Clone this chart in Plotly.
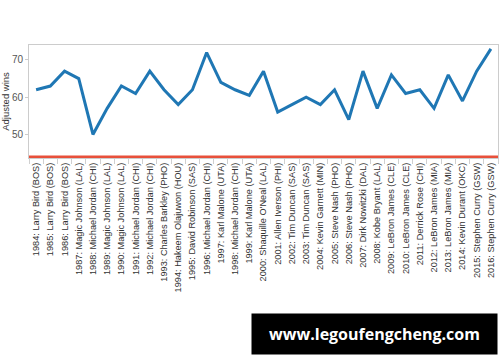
import plotly.graph_objects as go

years = list(range(1984, 2017))
players = [
    "Larry Bird (BOS)", "Larry Bird (BOS)", "Larry Bird (BOS)",
    "Magic Johnson (LAL)", "Michael Jordan (CHI)", "Magic Johnson (LAL)",
    "Magic Johnson (LAL)", "Michael Jordan (CHI)", "Michael Jordan (CHI)",
    "Charles Barkley (PHO)", "Hakeem Olajuwon (HOU)", "David Robinson (SAS)",
    "Michael Jordan (CHI)", "Karl Malone (UTA)", "Michael Jordan (CHI)",
    "Karl Malone (UTA)", "Shaquille O'Neal (LAL)", "Allen Iverson (PHI)",
    "Tim Duncan (SAS)", "Tim Duncan (SAS)", "Kevin Garnett (MIN)",
    "Steve Nash (PHO)", "Steve Nash (PHO)", "Dirk Nowitzki (DAL)",
    "Kobe Bryant (LAL)", "LeBron James (CLE)", "LeBron James (CLE)",
    "Derrick Rose (CHI)", "LeBron James (MIA)", "LeBron James (MIA)",
    "Kevin Durant (OKC)", "Stephen Curry (GSW)", "Stephen Curry (GSW)",
]
adjusted_wins = [62, 63, 67, 65, 50, 57, 63, 61, 67, 62, 58, 62, 72, 64, 62, 60.5,
                 67, 56, 58, 60, 58, 62, 54, 67, 57, 66, 61, 62, 57, 66, 59, 67, 73]
reference_line = 44
y_range = [43.66, 74.03]
y_ticks = [50, 60, 70]
watermark = "www.legoufengcheng.com"

labels = [f"{y}: {p}" for y, p in zip(years, players)]

fig = go.Figure()
fig.add_trace(go.Scatter(
    x=labels, y=adjusted_wins, mode="lines",
    line=dict(color="#1f77b4", width=3), hoverinfo="skip", showlegend=False,
))
fig.add_hline(y=reference_line, line=dict(color="#e8503a", width=2.5))

fig.update_layout(
    width=500, height=362,
    margin=dict(l=28, r=1, t=45, b=204),
    paper_bgcolor="white", plot_bgcolor="white",
    font=dict(family="Liberation Sans, Arial, sans-serif", color="#333"),
    xaxis=dict(
        type="category", range=[-0.5, len(labels) - 0.5],
        tickangle=-90, tickfont=dict(size=9.2, color="#333"),
        ticks="outside", tickson="boundaries", ticklen=5, tickcolor="#d0d0d0",
        showgrid=False, showline=True, linecolor="#cccccc", mirror=True,
        zeroline=False,
    ),
    yaxis=dict(
        range=y_range, tickvals=y_ticks, tickfont=dict(size=10, color="#555"),
        ticks="outside", ticklen=3, tickcolor="#cccccc",
        showgrid=False, showline=True, linecolor="#cccccc", mirror=True,
        zeroline=False,
        title=dict(text="Adjusted wins", font=dict(size=9.5, color="#333"), standoff=4),
    ),
    annotations=[dict(
        text=f"<b>{watermark}</b>", xref="paper", yref="paper",
        x=0.7357, y=-1.5575, xanchor="center", yanchor="middle",
        showarrow=False, bgcolor="black", width=243, height=38,
        font=dict(family="Open Sans, DejaVu Sans, sans-serif", size=16, color="white"),
    )],
)

fig.write_html("out.html")
